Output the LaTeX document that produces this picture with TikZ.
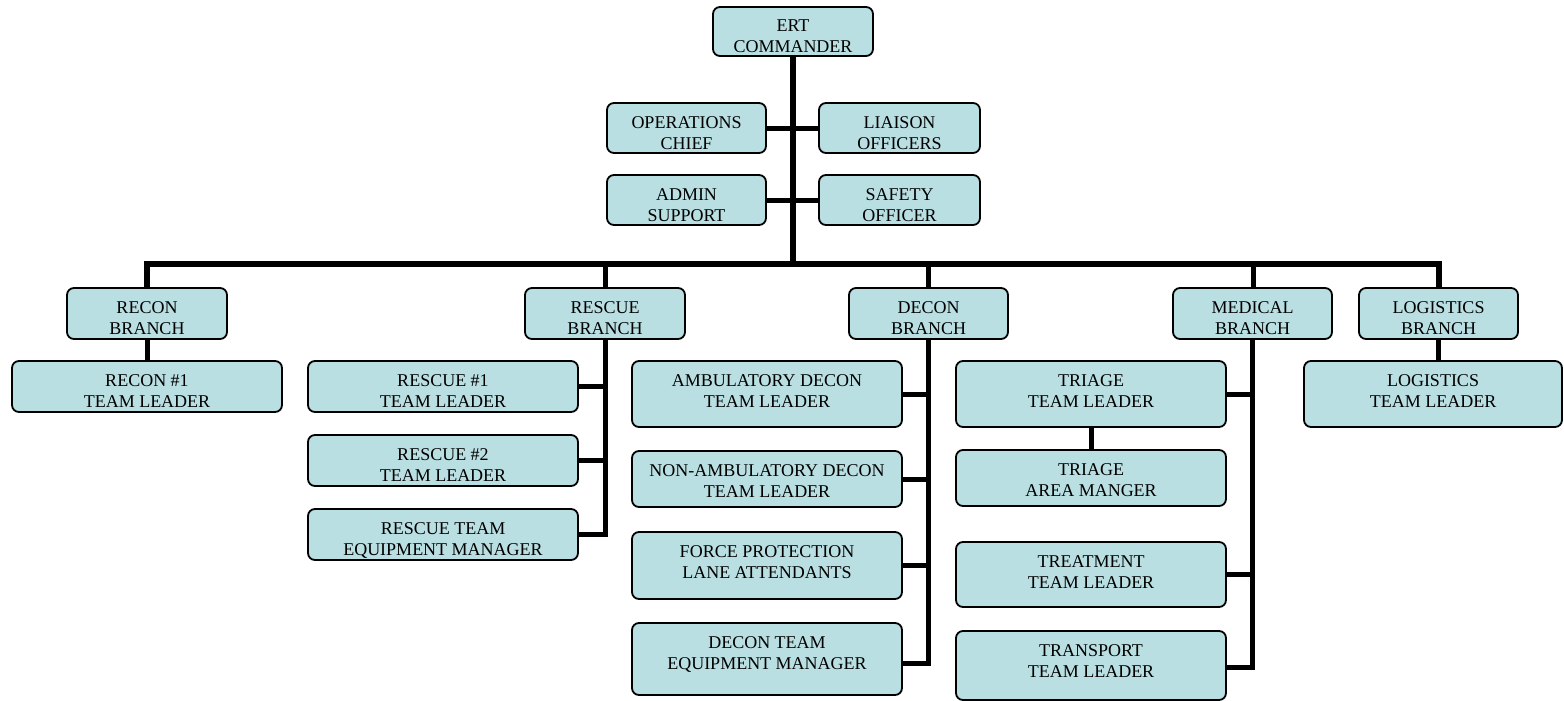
\documentclass[tikz,border=0pt]{standalone}
\usepackage{fontspec}
\setmainfont{Liberation Serif}
\definecolor{boxfill}{HTML}{B9DFE2}
\tikzset{
  box/.style={draw=black, fill=boxfill, line width=1.8pt, rounded corners=7pt,
              inner sep=0pt, outer sep=0pt, rectangle},
  lbl/.style={anchor=north, inner sep=0pt, align=center,
              font=\fontsize{18}{21}\selectfont},
  conn/.style={line width=5pt, line join=miter},
  trunk/.style={line width=6pt}
}
% name, left, top, right, bottom, text
\newcommand\orgbox[6]{%
  \node[box, minimum width={#4-#2}, minimum height={#5-#3}] (#1) at ({(#2+#4)/2},{(#3+#5)/2}) {};
  \node[lbl] (#1-t) at ({(#2+#4)/2},{#3+13}) {#6};
}
\begin{document}
\begin{tikzpicture}[x=1pt, y=-1pt]
\useasboundingbox (0,0) rectangle (1564,701);
\coordinate (busy) at (0,264);

% connectors (drawn first, boxes on top)
\path (793,56) coordinate (ertS);
\draw[trunk] (ertS) -- (ertS |- busy);
\draw[conn] (766,128) -- (819,128);
\draw[conn] (766,200) -- (819,200);
\draw[trunk] (147,288) -- (147,264) -- (1439,264) -- (1439,288);
\draw[conn] (605,264) -- (605,288);
\draw[conn] (928.5,264) -- (928.5,288);
\draw[conn] (1253,264) -- (1253,288);

% command staff
\orgbox{ert}{713}{7}{873}{56}{ERT\\COMMANDER}
\orgbox{ops}{607}{103}{766}{153}{OPERATIONS\\CHIEF}
\orgbox{lia}{819}{103}{980}{153}{LIAISON\\OFFICERS}
\orgbox{adm}{607}{175}{766}{225}{ADMIN\\SUPPORT}
\orgbox{saf}{819}{175}{980}{225}{SAFETY\\OFFICER}

% branches
\orgbox{recon}{67}{288}{227}{339}{RECON\\BRANCH}
\orgbox{rescue}{525}{288}{685}{339}{RESCUE\\BRANCH}
\orgbox{decon}{849}{288}{1008}{339}{DECON\\BRANCH}
\orgbox{med}{1173}{288}{1332}{339}{MEDICAL\\BRANCH}
\orgbox{logi}{1359}{288}{1518}{339}{LOGISTICS\\BRANCH}

% recon
\orgbox{recA}{12}{361}{282}{412}{RECON \#1\\TEAM LEADER}
% rescue
\orgbox{resA}{308}{361}{578}{412}{RESCUE \#1\\TEAM LEADER}
\orgbox{resB}{308}{435}{578}{486}{RESCUE \#2\\TEAM LEADER}
\orgbox{resC}{308}{509}{578}{560}{RESCUE TEAM\\EQUIPMENT MANAGER}
% decon
\orgbox{decA}{632}{361}{902}{427}{AMBULATORY DECON\\TEAM LEADER}
\orgbox{decB}{632}{451}{902}{507}{NON-AMBULATORY DECON\\TEAM LEADER}
\orgbox{decC}{632}{532}{902}{599}{FORCE PROTECTION\\LANE ATTENDANTS}
\orgbox{decD}{632}{623}{902}{695}{DECON TEAM\\EQUIPMENT MANAGER}
% medical
\orgbox{medA}{956}{361}{1226}{427}{TRIAGE\\TEAM LEADER}
\orgbox{medB}{956}{450}{1226}{506}{TRIAGE\\AREA MANGER}
\orgbox{medC}{956}{542}{1226}{607}{TREATMENT\\TEAM LEADER}
\orgbox{medD}{956}{631}{1226}{700}{TRANSPORT\\TEAM LEADER}
% logistics
\orgbox{logA}{1304}{361}{1562}{427}{LOGISTICS\\TEAM LEADER}

% branch-to-team connectors
\draw[conn] (recon.south) -- (recA.north);
\draw[conn] (logi.south) -- (logi.south |- logA.north);
\draw[conn] (medA.south) -- (medB.north);
\foreach \c in {resA,resB,resC}
  \draw[conn] (\c.east) -| (rescue.south);
\foreach \c in {decA,decB,decC}
  \draw[conn] (\c.east) -| (decon.south);
\draw[conn] ([yshift=-4pt]decD.east) -| (decon.south);
\draw[conn] (medA.east) -| (med.south);
\draw[conn] (medC.east) -| (med.south);
\draw[conn] ([yshift=-1.5pt]medD.east) -| (med.south);
\end{tikzpicture}
\end{document}
